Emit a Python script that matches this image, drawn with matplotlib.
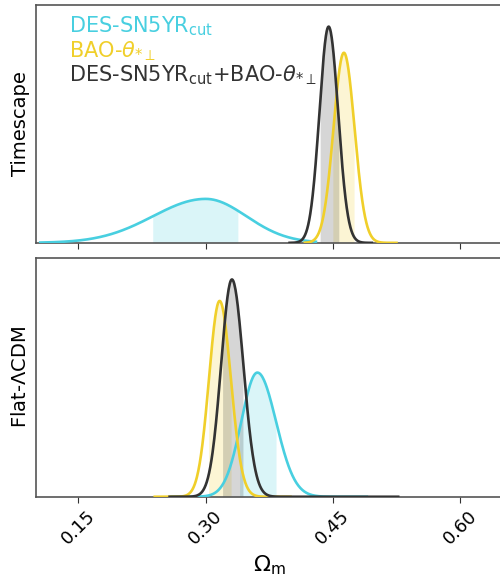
import numpy as np
import matplotlib
matplotlib.use("Agg")
import matplotlib.pyplot as plt

# dataset labels and colours
labels = [r"DES-SN5YR$_{\rm cut}$", r"BAO-$\theta_{*\perp}$",
          r"DES-SN5YR$_{\rm cut}$+BAO-$\theta_{*\perp}$"]
colors = ["#48cfe0", "#f0cf2a", "#333333"]

# posterior shapes: peak, left/right width, peak height,
# 68% shaded band, and sample range drawn
ts_peak = [0.300, 0.463, 0.445]
ts_sig_lo = [0.062, 0.0122, 0.0108]
ts_sig_hi = [0.048, 0.0125, 0.0112]
ts_height = [0.185, 0.80, 0.91]
ts_band = [(0.2376, 0.338), (0.450, 0.475), (0.435, 0.457)]
ts_range = [(0.105, 0.43), (0.417, 0.525), (0.399, 0.496)]

lcdm_peak = [0.361, 0.3165, 0.331]
lcdm_sig_lo = [0.019, 0.0125, 0.0128]
lcdm_sig_hi = [0.022, 0.0132, 0.0135]
lcdm_height = [0.52, 0.82, 0.91]
lcdm_band = [(0.340, 0.383), (0.3035, 0.330), (0.320, 0.344)]
lcdm_range = [(0.26, 0.49), (0.24, 0.40), (0.2575, 0.527)]

xticks = [0.15, 0.30, 0.45, 0.60]
panel_names = ["Timescape", r"Flat-$\Lambda$CDM"]


def curve(x, mu, slo, shi, h):
    s = np.where(x < mu, slo, shi)
    return h * np.exp(-0.5 * ((x - mu) / s) ** 2)


fig = plt.figure(figsize=(5, 5.81), dpi=100)
# the original was cropped a little on the right, so the axes run past the edge
ax_top = fig.add_axes([0.072, 0.582, 0.933, 0.409])
ax_bot = fig.add_axes([0.072, 0.145, 0.933, 0.411], sharex=ax_top)

panels = [
    (ax_top, ts_peak, ts_sig_lo, ts_sig_hi, ts_height, ts_band, ts_range),
    (ax_bot, lcdm_peak, lcdm_sig_lo, lcdm_sig_hi, lcdm_height, lcdm_band, lcdm_range),
]

for (ax, peak, slo, shi, hgt, band, rng), name in zip(panels, panel_names):
    for i in range(3):
        x = np.linspace(rng[i][0], rng[i][1], 400)
        y = curve(x, peak[i], slo[i], shi[i], hgt[i])
        ax.plot(x, y, color=colors[i], lw=1.9, zorder=3 + i)
        xb = np.linspace(band[i][0], band[i][1], 200)
        ax.fill_between(xb, 0, curve(xb, peak[i], slo[i], shi[i], hgt[i]),
                        color=colors[i], alpha=0.2, lw=0, zorder=1 + i * 0.1)
    ax.set_ylim(0, 1.0)
    ax.set_yticks([])
    ax.set_ylabel(name, fontsize=14)
    for sp in ax.spines.values():
        sp.set_color("#555555")
        sp.set_linewidth(1.2)
    ax.tick_params(axis="x", direction="out", length=4, color="#333333")

ax_bot.set_xlim(0.1, 0.65)
ax_bot.set_xticks(xticks)
ax_bot.set_xticklabels([f"{t:.2f}" for t in xticks], rotation=45, fontsize=13)
plt.setp(ax_top.get_xticklabels(), visible=False)
ax_bot.set_xlabel(r"$\Omega_{\rm m}$", fontsize=16)

for i, lab in enumerate(labels):
    ax_top.text(0.07, 0.96 - i * 0.103, lab, color=colors[i], fontsize=15,
                transform=ax_top.transAxes, va="top", ha="left")

fig.savefig("out.png", dpi=100)
